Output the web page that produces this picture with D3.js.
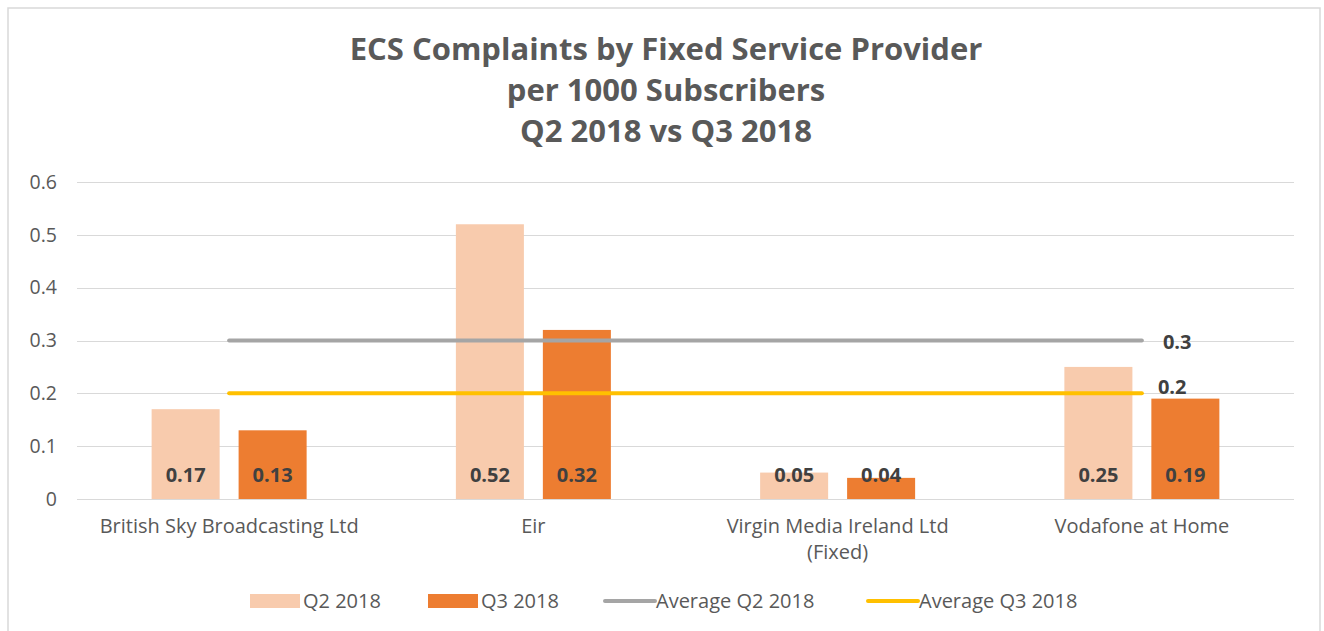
<!DOCTYPE html>
<html>
<head>
<meta charset="utf-8">
<script src="https://cdnjs.cloudflare.com/ajax/libs/d3/7.8.5/d3.min.js"></script>
<style>
  body { margin: 0; background: #ffffff; }
  svg { display: block; }
  .axis text { font-family: "Open Sans", "DejaVu Sans", sans-serif; fill: #595959; }
</style>
</head>
<body>
<div id="chart"></div>
<script>
// chart data
var categories = ["British Sky Broadcasting Ltd", "Eir", "Virgin Media Ireland Ltd\n(Fixed)", "Vodafone at Home"];
var seriesNames = ["Q2 2018", "Q3 2018"];
var q2Values = [0.17, 0.52, 0.05, 0.25];
var q3Values = [0.13, 0.32, 0.04, 0.19];
var avgQ2 = [0.3, 0.3, 0.3, 0.3];
var avgQ3 = [0.2, 0.2, 0.2, 0.2];
var yTicks = [0, 0.1, 0.2, 0.3, 0.4, 0.5, 0.6];
var titleLines = ["ECS Complaints by Fixed Service Provider", "per 1000 Subscribers", "Q2 2018 vs Q3 2018"];

var svgWidth = 1324, svgHeight = 631;
var margin = {top: 182, right: 30, bottom: 132, left: 77};
var width = svgWidth - margin.left - margin.right,
    height = svgHeight - margin.top - margin.bottom;

var colQ2 = "#f8cbad", colQ3 = "#ed7d31", colAvgQ2 = "#a5a5a5", colAvgQ3 = "#ffc000";
var textCol = "#595959";

var root = d3.select("#chart").append("svg")
    .attr("width", svgWidth)
    .attr("height", svgHeight);

// outer frame
root.append("rect")
    .attr("x", 8).attr("y", 8)
    .attr("width", 1312).attr("height", 640)
    .attr("fill", "#fff")
    .attr("stroke", "#d9d9d9")
    .attr("stroke-width", 1.5);

// title
root.append("g").selectAll("text")
    .data(titleLines)
    .enter().append("text")
    .attr("x", 666)
    .attr("y", function(d, i) { return 60 + i * 41; })
    .attr("text-anchor", "middle")
    .attr("font-family", "'Open Sans', sans-serif")
    .attr("font-weight", "bold")
    .attr("font-size", "31px")
    .attr("fill", textCol)
    .text(function(d) { return d; });

var svg = root.append("g")
    .attr("transform", "translate(" + margin.left + "," + margin.top + ")");

var xScale = d3.scaleBand()
    .domain(categories)
    .range([0, width])
    .padding(0);

var innerScale = d3.scaleBand()
    .domain(seriesNames)
    .range([xScale.bandwidth() / 2 - 77.5, xScale.bandwidth() / 2 + 77.5])
    .paddingInner(0.218)
    .paddingOuter(0);

var yScale = d3.scaleLinear()
    .domain([0, 0.6])
    .range([height, 0]);

// gridlines
svg.append("g")
    .selectAll("line")
    .data(yTicks)
    .enter().append("line")
    .attr("x1", 0).attr("x2", width)
    .attr("y1", function(d) { return Math.round(yScale(d)) + 0.5; })
    .attr("y2", function(d) { return Math.round(yScale(d)) + 0.5; })
    .attr("stroke", "#d9d9d9")
    .attr("stroke-width", 1.2);

// y axis labels
var yax = svg.append("g")
    .attr("class", "axis")
    .call(d3.axisLeft(yScale).tickValues(yTicks).tickSize(0).tickPadding(20).tickFormat(function(d) { return d === 0 ? "0" : d3.format(".1f")(d); }));
yax.select(".domain").remove();
yax.selectAll("text").attr("font-size", "19.5px");

// x axis labels
var xax = svg.append("g")
    .attr("class", "axis")
    .attr("transform", "translate(0," + height + ")")
    .call(d3.axisBottom(xScale).tickSize(0).tickPadding(0));
xax.select(".domain").remove();
xax.selectAll("text").each(function(d) {
    var t = d3.select(this);
    var lines = d.split("\n");
    t.text(null).attr("font-size", "20px").attr("y", 0).attr("dy", null);
    lines.forEach(function(l, i) {
        t.append("tspan").attr("x", 0).attr("y", 34 + i * 26).text(l);
    });
});

// bars
var groups = svg.append("g").selectAll("g")
    .data(categories)
    .enter().append("g")
    .attr("transform", function(d) { return "translate(" + xScale(d) + ",0)"; });

var barData = function(d, i) {
    return [{s: "Q2 2018", v: q2Values[i], c: colQ2}, {s: "Q3 2018", v: q3Values[i], c: colQ3}];
};

groups.selectAll("rect")
    .data(barData)
    .enter().append("rect")
    .attr("x", function(d) { return innerScale(d.s); })
    .attr("width", innerScale.bandwidth())
    .attr("y", function(d) { return yScale(d.v); })
    .attr("height", function(d) { return height - yScale(d.v); })
    .attr("fill", function(d) { return d.c; });

groups.selectAll("text.val")
    .data(barData)
    .enter().append("text")
    .attr("class", "val")
    .attr("x", function(d) { return innerScale(d.s) + innerScale.bandwidth() / 2; })
    .attr("y", height - 17)
    .attr("text-anchor", "middle")
    .attr("font-family", "'Open Sans', 'DejaVu Sans', sans-serif")
    .attr("font-weight", "bold")
    .attr("font-size", "20px")
    .attr("fill", "#404040")
    .text(function(d) { return d.v; });

// average lines
var lineGen = d3.line()
    .x(function(d, i) { return xScale(categories[i]) + xScale.bandwidth() / 2; })
    .y(function(d) { return yScale(d); });

[[avgQ2, colAvgQ2], [avgQ3, colAvgQ3]].forEach(function(a) {
    svg.append("path")
        .datum(a[0])
        .attr("d", lineGen)
        .attr("fill", "none")
        .attr("stroke", a[1])
        .attr("stroke-width", 4)
        .attr("stroke-linecap", "round");
});

var lastX = xScale(categories[3]) + xScale.bandwidth() / 2;
svg.append("text")
    .attr("x", lastX + 21).attr("y", yScale(avgQ2[3]) + 8)
    .attr("font-family", "'Open Sans', 'DejaVu Sans', sans-serif")
    .attr("font-weight", "bold").attr("font-size", "20px")
    .attr("fill", "#404040")
    .text(avgQ2[3]);
svg.append("text")
    .attr("x", lastX + 16).attr("y", yScale(avgQ3[3]) + 1)
    .attr("font-family", "'Open Sans', 'DejaVu Sans', sans-serif")
    .attr("font-weight", "bold").attr("font-size", "20px")
    .attr("fill", "#404040")
    .text(avgQ3[3]);

// legend
var legendItems = [
    {name: "Q2 2018", type: "rect", c: colQ2, x: 250},
    {name: "Q3 2018", type: "rect", c: colQ3, x: 428},
    {name: "Average Q2 2018", type: "line", c: colAvgQ2, x: 603},
    {name: "Average Q3 2018", type: "line", c: colAvgQ3, x: 866}
];
var legend = root.append("g").attr("transform", "translate(0,601)");
legendItems.forEach(function(it) {
    if (it.type === "rect") {
        legend.append("rect").attr("x", it.x).attr("y", -7).attr("width", 50).attr("height", 14).attr("fill", it.c);
    } else {
        legend.append("line").attr("x1", it.x + 2).attr("x2", it.x + 52).attr("y1", 0).attr("y2", 0)
            .attr("stroke", it.c).attr("stroke-width", 4).attr("stroke-linecap", "round");
    }
    legend.append("text")
        .attr("x", it.x + 53).attr("y", 7)
        .attr("font-family", "'Open Sans', sans-serif")
        .attr("font-size", "20px")
        .attr("fill", textCol)
        .text(it.name);
});
</script>
</body>
</html>
